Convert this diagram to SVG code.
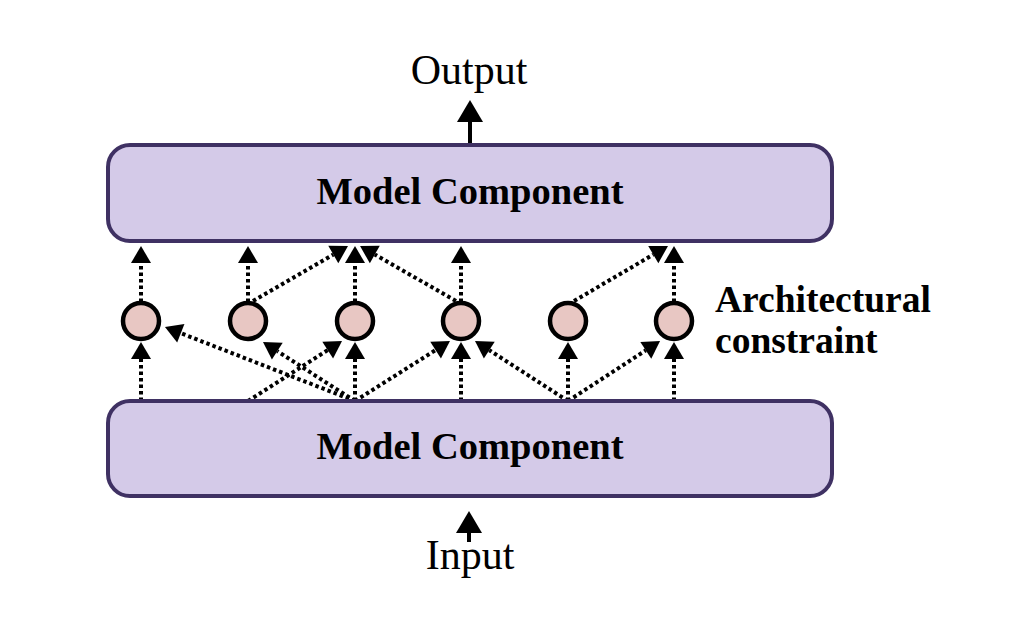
<svg xmlns="http://www.w3.org/2000/svg" width="1024" height="637" viewBox="0 0 1024 637">
  <style>
    .box { fill: #d4cae8; stroke: #3f3163; stroke-width: 4; }
    .node { fill: #e8c7c3; stroke: #000; stroke-width: 4.5; }
    .dot { fill: none; stroke: #000; stroke-width: 4; stroke-dasharray: 3.5 3; marker-end: url(#ah); }
    .solid { fill: none; stroke: #000; stroke-width: 4; marker-end: url(#ahs); }
    .lbl { font-family: "Liberation Serif", "DejaVu Serif", serif; fill: #000; }
    .title { font-size: 38.5px; font-weight: bold; text-anchor: middle; }
    .io { font-size: 42px; text-anchor: middle; }
    .side { font-size: 37.5px; font-weight: bold; }
  </style>
  <defs>
    <marker id="ah" markerUnits="userSpaceOnUse" markerWidth="18" markerHeight="20" refX="0" refY="10" orient="auto" overflow="visible">
      <path d="M0,0 L17,10 L0,20 z" fill="#000"/>
    </marker>
    <marker id="ahs" markerUnits="userSpaceOnUse" markerWidth="23" markerHeight="26" refX="0" refY="13" orient="auto" overflow="visible">
      <path d="M0,0 L22,13 L0,26 z" fill="#000"/>
    </marker>
  </defs>
  <rect width="1024" height="637" fill="#fff"/>

  <g id="connectors">
    <!-- input / output -->
    <line class="solid" x1="469" y1="542" x2="469" y2="533"/>
    <line class="solid" x1="470" y1="143" x2="470" y2="122"/>
    <!-- vertical: circles to top box -->
    <line class="dot" x1="141" y1="302" x2="141" y2="263"/>
    <line class="dot" x1="248" y1="302" x2="248" y2="263"/>
    <line class="dot" x1="355" y1="302" x2="355" y2="263"/>
    <line class="dot" x1="461" y1="302" x2="461" y2="263"/>
    <line class="dot" x1="674" y1="302" x2="674" y2="263"/>
    <!-- vertical: bottom box to circles -->
    <line class="dot" x1="141" y1="401" x2="141" y2="359"/>
    <line class="dot" x1="355" y1="401" x2="355" y2="359"/>
    <line class="dot" x1="461" y1="401" x2="461" y2="359"/>
    <line class="dot" x1="568" y1="401" x2="568" y2="359"/>
    <line class="dot" x1="674" y1="401" x2="674" y2="359"/>
    <!-- diagonals from bottom box -->
    <line class="dot" x1="355" y1="401" x2="180.8" y2="333.2"/>
    <line class="dot" x1="355" y1="401" x2="277.3" y2="351.2"/>
    <line class="dot" x1="248" y1="401" x2="327.7" y2="350.1"/>
    <line class="dot" x1="355" y1="401" x2="435.6" y2="350.1"/>
    <line class="dot" x1="568" y1="401" x2="489.3" y2="350.2"/>
    <line class="dot" x1="568" y1="401" x2="645.8" y2="350.3"/>
    <!-- diagonals to top box -->
    <line class="dot" x1="253" y1="301" x2="333.3" y2="254.5"/>
    <line class="dot" x1="456" y1="301" x2="374.8" y2="254.5"/>
    <line class="dot" x1="574" y1="301" x2="653.3" y2="254.6"/>
  </g>

  <g id="top-component">
    <rect class="box" x="108" y="145" width="724" height="96" rx="22" ry="22"/>
    <text class="lbl title" x="470" y="204">Model Component</text>
  </g>
  <g id="bottom-component">
    <rect class="box" x="108" y="401" width="724" height="95" rx="22" ry="22"/>
    <text class="lbl title" x="470" y="459">Model Component</text>
  </g>

  <g id="c1"><circle class="node" cx="141" cy="321" r="18"/></g>
  <g id="c2"><circle class="node" cx="248" cy="321" r="18"/></g>
  <g id="c3"><circle class="node" cx="355" cy="321" r="18"/></g>
  <g id="c4"><circle class="node" cx="461" cy="321" r="18"/></g>
  <g id="c5"><circle class="node" cx="568" cy="321" r="18"/></g>
  <g id="c6"><circle class="node" cx="674" cy="321" r="18"/></g>

  <g id="output-label"><text class="lbl io" x="469" y="84">Output</text></g>
  <g id="input-label"><text class="lbl io" x="470" y="569">Input</text></g>
  <g id="constraint-label">
    <text class="lbl side" x="715" y="312">Architectural</text>
    <text class="lbl side" x="715" y="353">constraint</text>
  </g>
</svg>
